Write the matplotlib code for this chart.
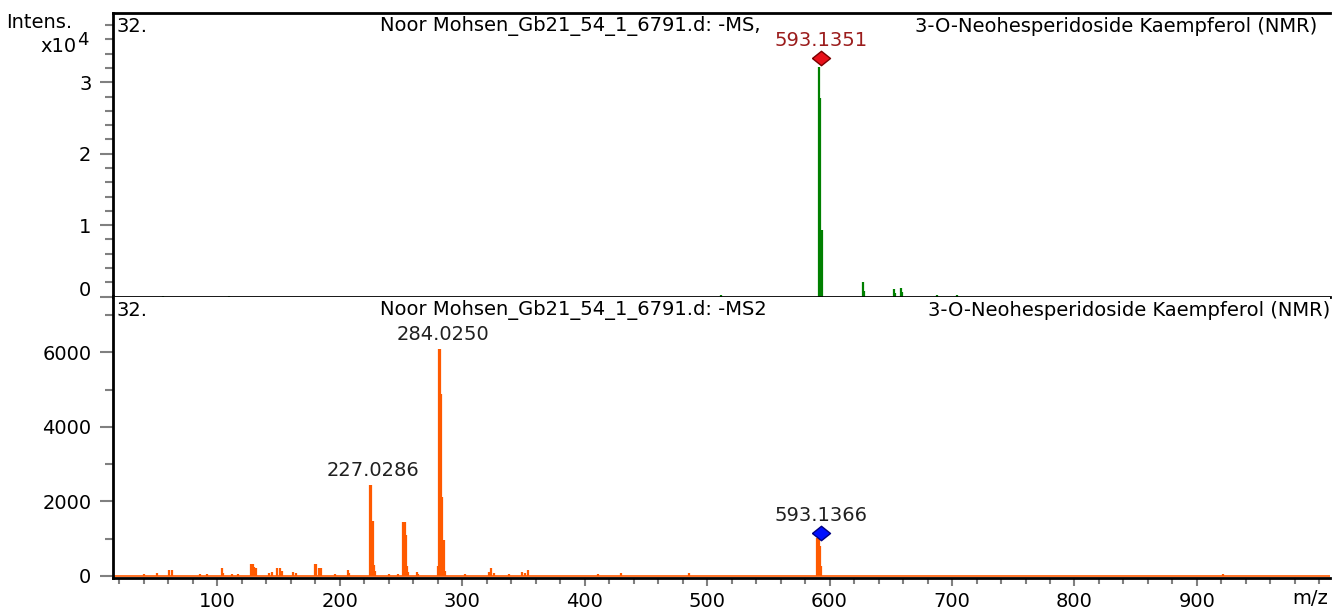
import matplotlib
matplotlib.use('Agg')
import matplotlib.pyplot as plt
from matplotlib.ticker import MultipleLocator, FuncFormatter

plt.rcParams['font.family'] = ['DejaVu Sans']

# MS 스펙트럼 (상단, 초록)
ms1_mz = [56, 110, 511, 591.6, 592.6, 593.6, 627, 628, 652.5, 653.5, 658, 659, 688, 704]
ms1_int = [100, 100, 250, 32200, 27800, 9300, 2000, 800, 1100, 500, 1200, 600, 200, 200]

# MS2 스펙트럼 (하단, 주황)
ms2_mz = [40, 51, 61, 63, 86, 92, 104, 105, 112, 117, 128, 129, 130, 132, 142, 145,
          149, 151, 153, 162, 164, 180, 181, 183, 185, 196, 207, 208,
          225, 226, 227, 228, 229, 240, 248, 252, 253, 254, 255, 256, 263, 264, 280,
          281, 282, 283, 284, 285, 286, 302, 322, 324, 326, 338, 349, 351, 354,
          411, 430, 485, 590, 591, 592, 593, 921]
ms2_int = [50, 80, 170, 170, 60, 60, 200, 80, 60, 60, 330, 330, 250, 210, 80, 100,
           200, 220, 120, 100, 80, 330, 330, 210, 210, 50, 170, 80,
           2450, 2450, 1470, 300, 120, 50, 50, 1440, 1440, 1100, 270, 100, 100, 60, 270,
           6100, 6100, 4880, 2130, 970, 120, 60, 100, 200, 80, 60, 100, 80, 150,
           50, 80, 80, 1010, 1010, 800, 270, 40]

# 피크 라벨
ms1_lab_mz = [593.1351]
ms1_lab_int = [33400]
ms2_lab_mz = [227.0286, 284.0250, 593.1366]
ms2_lab_int = [2450, 6100, 1150]

title_a = ['Noor Mohsen_Gb21_54_1_6791.d: -MS,', 'Noor Mohsen_Gb21_54_1_6791.d: -MS2']
title_b = '3-O-Neohesperidoside Kaempferol (NMR)'

green = '#008000'
orange = '#ff5a00'
fs = 14
W, H = 1332, 609
fig = plt.figure(figsize=(W/100, H/100), dpi=100)
L, R = 113/W, 1330/W
ax1 = fig.add_axes([L, 1-296.5/H, R-L, (296.5-13)/H])
ax2 = fig.add_axes([L, 1-578/H, R-L, (578-296.5)/H])

xlim = (15, 1008.6)
ax1.vlines(ms1_mz, 0, ms1_int, color=green, lw=1.6)
ax2.vlines(ms2_mz, 0, ms2_int, color=orange, lw=1.6)
ax2.axhline(0, color=orange, lw=1.2, zorder=1)

ax1.set_xlim(xlim)
ax2.set_xlim(xlim)
ax1.set_ylim(0, 39700)
ax2.set_ylim(-55, 7500)

for ax in (ax1, ax2):
    ax.spines['right'].set_visible(False)
    for s in ('left', 'bottom', 'top'):
        ax.spines[s].set_linewidth(2)
        ax.spines[s].set_color('black')
    ax.tick_params(axis='y', which='major', length=9.5, width=1.5, color='#808080',
                   labelsize=fs, pad=6)
    ax.tick_params(axis='y', which='minor', length=6, width=1.5, color='#808080')
ax2.spines['top'].set_visible(False)

ax1.yaxis.set_major_locator(MultipleLocator(10000))
ax1.yaxis.set_minor_locator(MultipleLocator(2000))
ax1.yaxis.set_major_formatter(FuncFormatter(lambda v, p: '%d' % round(v/10000)))
ax1.set_xticks([])
ax1.tick_params(axis='x', which='both', length=0)

ax2.yaxis.set_major_locator(MultipleLocator(2000))
ax2.yaxis.set_minor_locator(MultipleLocator(1000))
ax2.xaxis.set_minor_locator(MultipleLocator(20))
ax2.set_xticks([t for t in range(100, 1000, 100)])
ax2.tick_params(axis='x', which='major', length=6, width=1.5, color='#808080',
                labelsize=fs, pad=4)
ax2.tick_params(axis='x', which='minor', length=4.5, width=1.5, color='#808080')

# 피크 마커와 라벨
diamond = [(-1, 0), (0, 0.8), (1, 0), (0, -0.8), (-1, 0)]
ax1.plot(ms1_lab_mz, ms1_lab_int, ls='none', marker=diamond, ms=13,
         mfc='#e8101a', mec='#7a0000', mew=1)
for x, y in zip(ms1_lab_mz, ms1_lab_int):
    ax1.annotate('%.4f' % x, (x, y), xytext=(0, 6), textcoords='offset points',
                 ha='center', va='bottom', fontsize=fs, color='#9b1c1c')
ax2.plot(ms2_lab_mz[2:], ms2_lab_int[2:], ls='none', marker=diamond, ms=13,
         mfc='#0010ff', mec='#000080', mew=1)
for x, y in zip(ms2_lab_mz, ms2_lab_int):
    off = 6 if x > 500 else 3
    ax2.annotate('%.4f' % x, (x, y), xytext=(0, off), textcoords='offset points',
                 ha='center', va='bottom', fontsize=fs, color='#202020')

# 텍스트
fig.text(6/W, 1-22/H, 'Intens.', fontsize=fs, va='center', ha='left')
fig.text(77/W, 1-47/H, 'x10', fontsize=fs, va='center', ha='right')
fig.text(77/W, 1-40/H, '4', fontsize=fs-1, va='center', ha='left')
for i, yy in enumerate([26, 310]):
    fig.text(117/W, 1-yy/H, '32.', fontsize=fs, va='center', ha='left')
    fig.text(380/W, 1-yy/H, title_a[i], fontsize=fs, va='center', ha='left')
    fig.text([1317, 1330][i]/W, 1-yy/H, title_b, fontsize=fs, va='center', ha='right')
fig.text(1310/W, 1-598/H, 'm/z', fontsize=fs, va='center', ha='center')

fig.canvas.draw()
for lbl in ax1.get_yticklabels():
    if lbl.get_text() == '0':
        lbl.set_va('baseline')

fig.savefig('out.png', dpi=100)
